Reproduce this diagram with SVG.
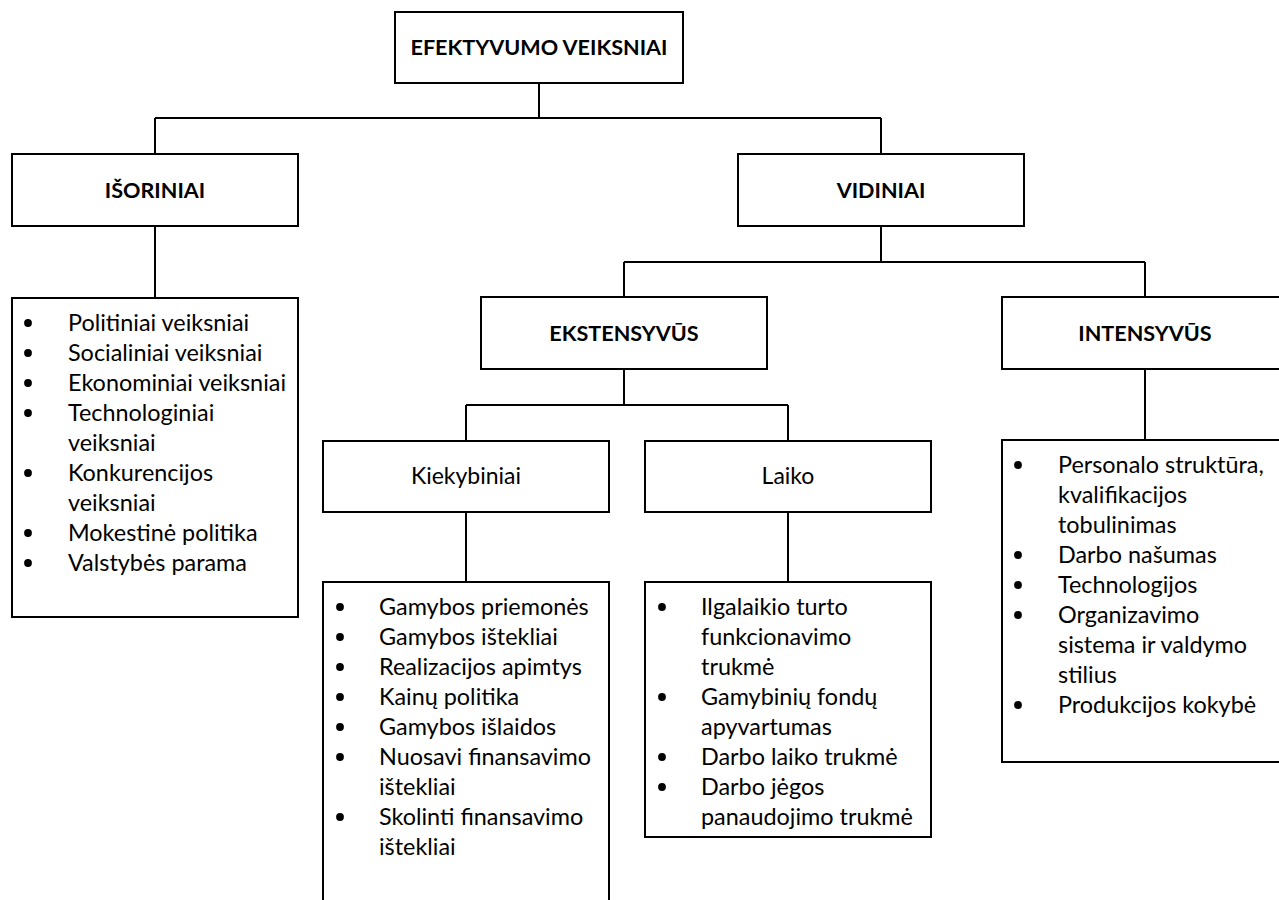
<svg xmlns="http://www.w3.org/2000/svg" width="1279" height="900" viewBox="0 0 1279 900">
  <style>
    .box { fill: #ffffff; stroke: #000000; stroke-width: 2; }
    .wire { fill: none; stroke: #000000; stroke-width: 2; }
    .head { font-family: Lato, "Liberation Sans", sans-serif; font-weight: bold; font-size: 21.6px; fill: #000000; text-anchor: middle; }
    .name { font-family: Lato, "Liberation Sans", sans-serif; font-size: 23px; fill: #000000; text-anchor: middle; }
    .item { font-family: Lato, "Liberation Sans", sans-serif; font-size: 23.4px; fill: #000000; }
    .dot { fill: #000000; }
  </style>
  <rect width="1279" height="900" fill="#ffffff"/>

  <g id="connectors">
    <path class="wire" d="M539 83 V118 M155 118 H881 M155 118 V154 M881 118 V154"/>
    <path class="wire" d="M155 226 V298"/>
    <path class="wire" d="M881 226 V262 M624 262 H1145 M624 262 V297 M1145 262 V297"/>
    <path class="wire" d="M1145 369 V440"/>
    <path class="wire" d="M624 369 V405 M466 405 H788 M466 405 V441 M788 405 V441"/>
    <path class="wire" d="M466 512 V582 M788 512 V582"/>
  </g>

  <g id="efektyvumo-veiksniai">
    <rect class="box" x="395" y="12" width="288" height="71"/>
    <text class="head" x="539" y="55">EFEKTYVUMO VEIKSNIAI</text>
  </g>

  <g id="isoriniai">
    <rect class="box" x="12" y="154" width="286" height="72"/>
    <text class="head" x="155" y="198">IŠORINIAI</text>
  </g>

  <g id="vidiniai">
    <rect class="box" x="738" y="154" width="286" height="72"/>
    <text class="head" x="881" y="198">VIDINIAI</text>
  </g>

  <g id="ekstensyvus">
    <rect class="box" x="481" y="297" width="286" height="72"/>
    <text class="head" x="624" y="341">EKSTENSYVŪS</text>
  </g>

  <g id="intensyvus">
    <rect class="box" x="1002" y="297" width="286" height="72"/>
    <text class="head" x="1145" y="341">INTENSYVŪS</text>
  </g>

  <g id="kiekybiniai">
    <rect class="box" x="323" y="441" width="286" height="71"/>
    <text class="name" x="466" y="484">Kiekybiniai</text>
  </g>

  <g id="laiko">
    <rect class="box" x="645" y="441" width="286" height="71"/>
    <text class="name" x="788" y="484">Laiko</text>
  </g>

  <!-- external factors list -->
  <g id="isoriniai-list">
    <rect class="box" x="12" y="298" width="286" height="319"/>
    <g class="dot">
      <circle cx="28" cy="323" r="3.9"/>
      <circle cx="28" cy="353" r="3.9"/>
      <circle cx="28" cy="383" r="3.9"/>
      <circle cx="28" cy="413" r="3.9"/>
      <circle cx="28" cy="473" r="3.9"/>
      <circle cx="28" cy="533" r="3.9"/>
      <circle cx="28" cy="563" r="3.9"/>
    </g>
    <text class="item" x="68" y="331">Politiniai veiksniai</text>
    <text class="item" x="68" y="361">Socialiniai veiksniai</text>
    <text class="item" x="68" y="391">Ekonominiai veiksniai</text>
    <text class="item" x="68" y="421">Technologiniai</text>
    <text class="item" x="68" y="451">veiksniai</text>
    <text class="item" x="68" y="481">Konkurencijos</text>
    <text class="item" x="68" y="511">veiksniai</text>
    <text class="item" x="68" y="541">Mokestinė politika</text>
    <text class="item" x="68" y="571">Valstybės parama</text>
  </g>

  <!-- intensive factors list -->
  <g id="intensyvus-list">
    <rect class="box" x="1002" y="440" width="286" height="322"/>
    <g class="dot">
      <circle cx="1018" cy="465" r="3.9"/>
      <circle cx="1018" cy="555" r="3.9"/>
      <circle cx="1018" cy="585" r="3.9"/>
      <circle cx="1018" cy="615" r="3.9"/>
      <circle cx="1018" cy="705" r="3.9"/>
    </g>
    <text class="item" x="1058" y="473">Personalo struktūra,</text>
    <text class="item" x="1058" y="503">kvalifikacijos</text>
    <text class="item" x="1058" y="533">tobulinimas</text>
    <text class="item" x="1058" y="563">Darbo našumas</text>
    <text class="item" x="1058" y="593">Technologijos</text>
    <text class="item" x="1058" y="623">Organizavimo</text>
    <text class="item" x="1058" y="653">sistema ir valdymo</text>
    <text class="item" x="1058" y="683">stilius</text>
    <text class="item" x="1058" y="713">Produkcijos kokybė</text>
  </g>

  <!-- quantitative factors list -->
  <g id="kiekybiniai-list">
    <rect class="box" x="323" y="582" width="286" height="330"/>
    <g class="dot">
      <circle cx="340" cy="607" r="3.9"/>
      <circle cx="340" cy="637" r="3.9"/>
      <circle cx="340" cy="667" r="3.9"/>
      <circle cx="340" cy="697" r="3.9"/>
      <circle cx="340" cy="727" r="3.9"/>
      <circle cx="340" cy="757" r="3.9"/>
      <circle cx="340" cy="817" r="3.9"/>
    </g>
    <text class="item" x="379" y="615">Gamybos priemonės</text>
    <text class="item" x="379" y="645">Gamybos ištekliai</text>
    <text class="item" x="379" y="675">Realizacijos apimtys</text>
    <text class="item" x="379" y="705">Kainų politika</text>
    <text class="item" x="379" y="735">Gamybos išlaidos</text>
    <text class="item" x="379" y="765">Nuosavi finansavimo</text>
    <text class="item" x="379" y="795">ištekliai</text>
    <text class="item" x="379" y="825">Skolinti finansavimo</text>
    <text class="item" x="379" y="855">ištekliai</text>
  </g>

  <!-- time factors list -->
  <g id="laiko-list">
    <rect class="box" x="645" y="582" width="286" height="255"/>
    <g class="dot">
      <circle cx="662" cy="607" r="3.9"/>
      <circle cx="662" cy="697" r="3.9"/>
      <circle cx="662" cy="757" r="3.9"/>
      <circle cx="662" cy="787" r="3.9"/>
    </g>
    <text class="item" x="701" y="615">Ilgalaikio turto</text>
    <text class="item" x="701" y="645">funkcionavimo</text>
    <text class="item" x="701" y="675">trukmė</text>
    <text class="item" x="701" y="705">Gamybinių fondų</text>
    <text class="item" x="701" y="735">apyvartumas</text>
    <text class="item" x="701" y="765">Darbo laiko trukmė</text>
    <text class="item" x="701" y="795">Darbo jėgos</text>
    <text class="item" x="701" y="825">panaudojimo trukmė</text>
  </g>
</svg>
